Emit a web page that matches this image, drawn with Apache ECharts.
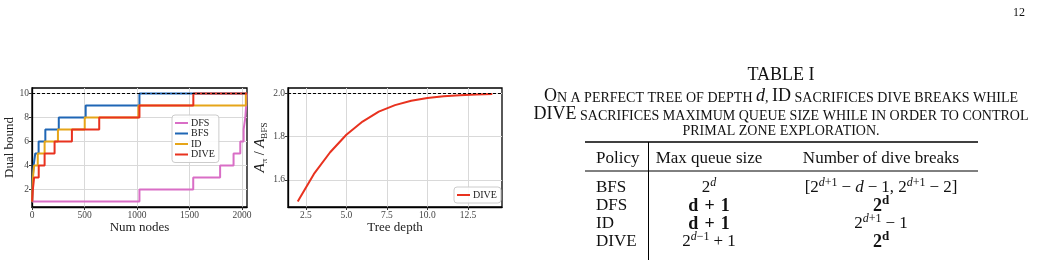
<!DOCTYPE html>
<html>
<head>
<meta charset="utf-8">
<script src="https://cdn.jsdelivr.net/npm/echarts@6.0.0/dist/echarts.min.js"></script>
<style>
html, body { margin: 0; padding: 0; background: #fff; }
#main { width: 1038px; height: 260px; }
</style>
</head>
<body>
<div id="main"></div>
<script>
/* left plot: dual bound vs explored nodes (steps) */
const nodeMax = 2047
const nodeTicks = [0, 500, 1000, 1500, 2000]
const boundTicks = [2, 4, 6, 8, 10]
const optimum = 10

const dfsNodes = [0, 1023, 1535, 1791, 1919, 1983, 2015, 2031, 2039, 2043, 2047]
const dfsBound = [1, 2, 3, 4, 5, 6, 7, 8, 9, 10, 10]
const bfsNodes = [1, 3, 7, 15, 31, 63, 127, 255, 511, 1023, 2047]
const bfsBound = [1, 2, 3, 4, 5, 6, 7, 8, 9, 10, 10]
const idNodes = [1, 4, 9, 20, 55, 120, 247, 502, 1013, 2036, 2047]
const idBound = [1, 2, 3, 4, 5, 6, 7, 8, 9, 10, 10]
const diveNodes = [1, 8, 20, 64, 120, 215, 380, 640, 1023, 1536, 2047]
const diveBound = [1, 2, 3, 4, 5, 6, 7, 8, 9, 10, 10]

/* right plot: area ratio vs tree depth */
const depths = [2, 3, 4, 5, 6, 7, 8, 9, 10, 11, 12, 13, 14]
const ratio = [1.5, 1.628, 1.728, 1.809, 1.87, 1.916, 1.946, 1.966, 1.979, 1.987, 1.992, 1.995, 1.997]
const depthTicks = [2.5, 5, 7.5, 10, 12.5]
const ratioTicks = [1.6, 1.8, 2.0]
const ratioLimit = 2.0

/* table */
const policies = ['BFS', 'DFS', 'ID', 'DIVE']
const queueCells = [
	'{n|2}{supi|d}',
	'{b|d}{bop|+}{b|1}',
	'{b|d}{bop|+}{b|1}',
	'{n|2}{supi|d}{sup|−1}{op|+}{n|1}'
]
const breakCells = [
	'{n|[2}{supi|d}{sup|+1}{op|−}{it|d}{op|−}{n|1, 2}{supi|d}{sup|+1}{op|−}{n|2]}',
	'{b|2}{bsup|d}',
	'{n|2}{supi|d}{sup|+1}{op|−}{n|1}',
	'{b|2}{bsup|d}'
]

const FONT = 'Liberation Serif'
const COLORS = { dfs: '#d96ec6', bfs: '#1f66b5', id: '#e6a519', dive: '#e8321f' }
const zip = (xs, ys) => xs.map((x, i) => [x, ys[i]])

const stepSeries = (name, nodes, bound, color) => ({
	name: name,
	type: 'line',
	xAxisIndex: 0,
	yAxisIndex: 0,
	step: 'end',
	symbol: 'none',
	data: zip(nodes, bound),
	lineStyle: { width: 2, color: color },
	itemStyle: { color: color }
})

const tickLabel = { fontFamily: FONT, fontSize: 9.5, color: '#444' }
const axisLineStyle = { show: true, onZero: false, lineStyle: { color: '#000', width: 1.3 } }
const gridLine = { show: true, lineStyle: { color: '#d9d9d9', width: 1 } }

const valueAxis = (grid, min, max, ticks, fmt, name, gap, nameStyle) => ({
	gridIndex: grid,
	type: 'value',
	min: min,
	max: max,
	axisLine: axisLineStyle,
	axisTick: { customValues: ticks, length: 3, lineStyle: { color: '#333' } },
	axisLabel: Object.assign({ customValues: ticks, formatter: fmt, margin: 3 }, tickLabel),
	splitLine: gridLine,
	name: name,
	nameLocation: 'middle',
	nameGap: gap,
	nameTextStyle: nameStyle
})

const nameFont = { fontFamily: FONT, fontSize: 13, color: '#222' }

/* small caps caption helper: capitals stay big, lower case becomes small capitals */
const smallCaps = (str) => {
	let out = ''
	let kind = null
	let buf = ''
	for (const c of str) {
		const k = /[A-Z]/.test(c) ? 'B' : 'S'
		if (k !== kind && buf) {
			out += `{${kind}|${buf}}`
			buf = ''
		}
		kind = k
		buf += c.toUpperCase()
	}
	if (buf) out += `{${kind}|${buf}}`
	return out
}

const capRich = {
	B: { fontFamily: FONT, fontSize: 18, lineHeight: 18, verticalAlign: 'bottom', fill: '#111' },
	S: { fontFamily: FONT, fontSize: 14, lineHeight: 14, verticalAlign: 'bottom', fill: '#111' },
	it: { fontFamily: FONT, fontSize: 18, fontStyle: 'italic', lineHeight: 18, verticalAlign: 'bottom', fill: '#111' }
}

// superscripts are raised by giving them bottom padding
const base = { fontFamily: FONT, fontSize: 17, fill: '#111' }
const supBase = { fontFamily: FONT, fontSize: 12, fill: '#111', padding: [0, 0, 11, 0] }
const mathRich = {
	n: base,
	it: Object.assign({}, base, { fontStyle: 'italic' }),
	b: Object.assign({}, base, { fontWeight: 'bold', fontSize: 18 }),
	op: Object.assign({}, base, { padding: [0, 4, 0, 4] }),
	bop: Object.assign({}, base, { fontWeight: 'bold', fontSize: 18, padding: [0, 6, 0, 6] }),
	sup: supBase,
	supi: Object.assign({}, supBase, { fontStyle: 'italic' }),
	bsup: Object.assign({}, supBase, { fontWeight: 'bold', fontSize: 13 })
}

const text = (x, y, str, opts) => ({
	type: 'text',
	x: x,
	y: y,
	silent: true,
	style: Object.assign({
		text: str,
		fontFamily: FONT,
		fontSize: 17,
		fill: '#111',
		align: 'center',
		verticalAlign: 'middle'
	}, opts || {})
})

const hline = (x1, x2, y, w) => ({
	type: 'line', silent: true,
	shape: { x1: x1, y1: y, x2: x2, y2: y },
	style: { stroke: '#000', lineWidth: w }
})

const CX = 781
const tableGraphics = [
	text(1019, 13, '12', { fontSize: 12 }),
	text(CX, 75, 'TABLE I', { fontSize: 18 }),
	text(CX, 96, smallCaps('On a perfect tree of depth ') + '{it|d}' + smallCaps(', ID sacrifices dive breaks while'), { rich: capRich }),
	text(CX, 114, smallCaps('DIVE sacrifices maximum queue size while in order to control'), { rich: capRich }),
	text(CX, 131, smallCaps('primal zone exploration.'), { rich: capRich }),
	hline(585, 978, 142, 1.5),
	hline(585, 978, 171, 1),
	{ type: 'line', silent: true, shape: { x1: 648.5, y1: 142, x2: 648.5, y2: 260 }, style: { stroke: '#000', lineWidth: 1 } },
	text(596, 159, 'Policy', { align: 'left' }),
	text(709, 159, 'Max queue size'),
	text(881, 159, 'Number of dive breaks')
]
const rowY = [188, 206, 224, 242]
policies.forEach((p, i) => {
	tableGraphics.push(text(596, rowY[i], p, { align: 'left' }))
	tableGraphics.push(text(709, rowY[i], queueCells[i], { rich: mathRich }))
	tableGraphics.push(text(881, rowY[i], breakCells[i], { rich: mathRich }))
})

const chart = echarts.init(document.getElementById('main'))

const diveStep = stepSeries('DIVE', diveNodes, diveBound, COLORS.dive)
diveStep.markLine = {
	silent: true,
	symbol: ['none', 'none'],
	label: { show: false },
	lineStyle: { color: '#000', type: [3, 2], width: 1 },
	data: [{ yAxis: optimum }]
}

const subName = {
	a: { fontFamily: FONT, fontSize: 15, fontStyle: 'italic', color: '#222' },
	n: { fontFamily: FONT, fontSize: 14, color: '#222' },
	s: { fontFamily: FONT, fontSize: 9, color: '#222', padding: [9, 0, 0, 0] }
}

const legendBase = {
	orient: 'vertical',
	icon: 'rect', itemWidth: 13, itemHeight: 2,
	padding: [3, 4, 3, 3],
	borderColor: '#cccccc', borderWidth: 1, borderRadius: 3,
	backgroundColor: 'rgba(255,255,255,0.85)',
	textStyle: { fontFamily: FONT, fontSize: 10, lineHeight: 10, color: '#222', padding: [0, 0, 0, -2] }
}

chart.setOption({
	animation: false,
	backgroundColor: '#fff',
	grid: [
		{ left: 32, top: 88, width: 215, height: 119, show: true, borderColor: '#000', borderWidth: 1.3 },
		{ left: 288, top: 88, width: 214, height: 119, show: true, borderColor: '#000', borderWidth: 1.3 }
	],
	xAxis: [
		valueAxis(0, 0, nodeMax, nodeTicks, v => String(v), 'Num nodes', 13, nameFont),
		valueAxis(1, 1.4, 14.6, depthTicks, v => v.toFixed(1), 'Tree depth', 13, nameFont)
	],
	yAxis: [
		valueAxis(0, 0.55, 10.45, boundTicks, v => String(v), 'Dual bound', 14, nameFont),
		valueAxis(1, 1.475, 2.025, ratioTicks, v => v.toFixed(1),
			'{a|A}{s|π}{n| / }{a|A}{s|BFS}', 14, { rich: subName })
	],
	legend: [
		Object.assign({ data: ['DFS', 'BFS', 'ID', 'DIVE'], left: 172, top: 115, itemGap: 0.5 }, legendBase),
		Object.assign({ data: ['DIVE'], left: 454, top: 187 }, legendBase)
	],
	series: [
		stepSeries('DFS', dfsNodes, dfsBound, COLORS.dfs),
		stepSeries('BFS', bfsNodes, bfsBound, COLORS.bfs),
		stepSeries('ID', idNodes, idBound, COLORS.id),
		diveStep,
		{
			name: 'DIVE',
			type: 'line',
			xAxisIndex: 1,
			yAxisIndex: 1,
			symbol: 'none',
			data: zip(depths, ratio),
			lineStyle: { width: 2, color: COLORS.dive },
			itemStyle: { color: COLORS.dive },
			markLine: {
				silent: true,
				symbol: ['none', 'none'],
				label: { show: false },
				lineStyle: { color: '#000', type: [3, 2], width: 1 },
				data: [{ yAxis: ratioLimit }]
			}
		}
	],
	graphic: tableGraphics
})
</script>
</body>
</html>
